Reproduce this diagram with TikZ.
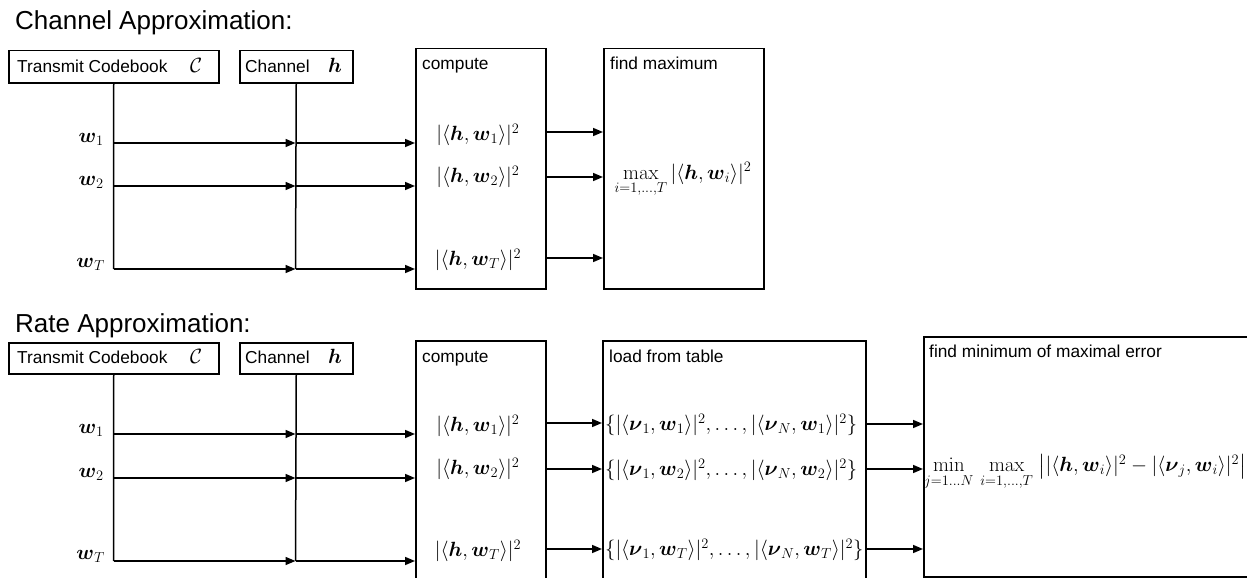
\RequirePackage{fix-cm}
\documentclass[tikz,border=0pt]{standalone}
\usepackage{amsmath}
\usepackage[no-math]{fontspec}
\setmainfont{Liberation Sans}
\usetikzlibrary{arrows.meta}
\begin{document}
\begin{tikzpicture}[x=1pt,y=-1pt,
  box/.style={draw, line width=1.5pt, inner sep=0pt},
  txt/.style={font=\fontsize{17.3}{20}\selectfont, inner sep=0pt},
  ttl/.style={font=\fontsize{26}{30}\selectfont, inner sep=0pt},
  mth/.style={font=\fontsize{20.6}{24}\selectfont, inner sep=0pt},
  ln/.style={line width=1.5pt},
  arr/.style={line width=1.5pt, -{Triangle[length=10pt,width=8pt]}}]
\useasboundingbox (0,0) rectangle (1247,578);
\clip (0,0) rectangle (1247,578);
\fill[white] (0,0) rectangle (1247,578);

% ===================== Channel Approximation =====================
\node[ttl, anchor=base west] (title1) at (15,30) {Channel Approximation:};

\node[box, anchor=north west, minimum width=210, minimum height=32] (tc1) at (8,50) {};
\node[txt, anchor=base west] (tc1t) at (17,72.5) {Transmit Codebook};
\node[mth, anchor=base west] (tc1c) at (190,72.5) {$\mathcal{C}$};
\node[box, anchor=north west, minimum width=113, minimum height=32] (ch1) at (239,50) {};
\node[txt, anchor=base west] (ch1t) at (245,72.5) {Channel};
\node[mth, anchor=base west] (ch1h) at (328,72.5) {$\boldsymbol{h}$};

\node[box, anchor=north west, minimum width=130, minimum height=240] (cp1) at (415,48) {};
\node[txt, anchor=base west] (cp1t) at (422,70) {compute};
\node[box, anchor=north west, minimum width=160, minimum height=240] (fm1) at (603,48) {};
\node[txt, anchor=base west] (fm1t) at (610,70) {find maximum};

\coordinate (a11) at (113.5,143);
\coordinate (a12) at (113.5,186);
\coordinate (a1T) at (113.5,269);
\coordinate (b11) at (295.5,143);
\coordinate (b12) at (295.5,186);
\coordinate (b1T) at (295.5,269);

\draw[ln] (tc1.south) -- (a1T);
\draw[ln] (ch1.south) -- (b1T);
\draw[arr] (a11) -- (b11);
\draw[arr] (a12) -- (b12);
\draw[arr] (a1T) -- (b1T);
\draw[arr] (b11) -- (cp1.west |- b11);
\draw[arr] (b12) -- (cp1.west |- b12);
\draw[arr] (b1T) -- (cp1.west |- b1T);

\node[mth, anchor=base east] (w11) at (104,142) {$\boldsymbol{w}_1$};
\node[mth, anchor=base east] (w12) at (104,185) {$\boldsymbol{w}_2$};
\node[mth, anchor=base east] (w1T) at (105,267) {$\boldsymbol{w}_T$};

\node[mth] (c11) at (478,135) {$|\langle\boldsymbol{h},\boldsymbol{w}_1\rangle|^2$};
\node[mth] (c12) at (478,177) {$|\langle\boldsymbol{h},\boldsymbol{w}_2\rangle|^2$};
\node[mth] (c1T) at (478,260) {$|\langle\boldsymbol{h},\boldsymbol{w}_T\rangle|^2$};

\draw[arr] (cp1.east |- 0,132) -- (fm1.west |- 0,132);
\draw[arr] (cp1.east |- 0,177) -- (fm1.west |- 0,177);
\draw[arr] (cp1.east |- 0,258) -- (fm1.west |- 0,258);

\node[mth] (mx1) at (683,180) {$\max\limits_{i=1,\ldots,T}|\langle\boldsymbol{h},\boldsymbol{w}_i\rangle|^2$};

% ===================== Rate Approximation =====================
\node[ttl, anchor=base west] (title2) at (15,332) {Rate Approximation:};

\node[box, anchor=north west, minimum width=210, minimum height=31] (tc2) at (8,342) {};
\node[txt, anchor=base west] (tc2t) at (17,363.5) {Transmit Codebook};
\node[mth, anchor=base west] (tc2c) at (190,363.5) {$\mathcal{C}$};
\node[box, anchor=north west, minimum width=113, minimum height=31] (ch2) at (239,342) {};
\node[txt, anchor=base west] (ch2t) at (245,363.5) {Channel};
\node[mth, anchor=base west] (ch2h) at (328,363.5) {$\boldsymbol{h}$};

\node[box, anchor=north west, minimum width=130, minimum height=270] (cp2) at (415,340) {};
\node[txt, anchor=base west] (cp2t) at (422,362) {compute};
\node[box, anchor=north west, minimum width=263, minimum height=270] (lt2) at (602,340) {};
\node[txt, anchor=base west] (lt2t) at (609,362) {load from table};
\node[box, anchor=north west, minimum width=340, minimum height=240] (fm2) at (923,336) {};
\node[txt, anchor=base west] (fm2t) at (929,357) {find minimum of maximal error};

\coordinate (a21) at (113.5,434);
\coordinate (a22) at (113.5,478);
\coordinate (a2T) at (113.5,561);
\coordinate (b21) at (295.5,434);
\coordinate (b22) at (295.5,478);
\coordinate (b2T) at (295.5,561);

\draw[ln] (tc2.south) -- (a2T);
\draw[ln] (ch2.south) -- (b2T);
\draw[arr] (a21) -- (b21);
\draw[arr] (a22) -- (b22);
\draw[arr] (a2T) -- (b2T);
\draw[arr] (b21) -- (cp2.west |- b21);
\draw[arr] (b22) -- (cp2.west |- b22);
\draw[arr] (b2T) -- (cp2.west |- b2T);

\node[mth, anchor=base east] (w21) at (104,433) {$\boldsymbol{w}_1$};
\node[mth, anchor=base east] (w22) at (104,477) {$\boldsymbol{w}_2$};
\node[mth, anchor=base east] (w2T) at (105,559) {$\boldsymbol{w}_T$};

\node[mth] (c21) at (478,426) {$|\langle\boldsymbol{h},\boldsymbol{w}_1\rangle|^2$};
\node[mth] (c22) at (478,469) {$|\langle\boldsymbol{h},\boldsymbol{w}_2\rangle|^2$};
\node[mth] (c2T) at (478,551) {$|\langle\boldsymbol{h},\boldsymbol{w}_T\rangle|^2$};

\draw[arr] (cp2.east |- 0,423) -- (lt2.west |- 0,423);
\draw[arr] (cp2.east |- 0,469) -- (lt2.west |- 0,469);
\draw[arr] (cp2.east |- 0,549) -- (lt2.west |- 0,549);

\node[mth, anchor=west] (l21) at (605,425) {$\{|\langle\boldsymbol{\nu}_1,\boldsymbol{w}_1\rangle|^2,\ldots,|\langle\boldsymbol{\nu}_N,\boldsymbol{w}_1\rangle|^2\}$};
\node[mth, anchor=west] (l22) at (605,470) {$\{|\langle\boldsymbol{\nu}_1,\boldsymbol{w}_2\rangle|^2,\ldots,|\langle\boldsymbol{\nu}_N,\boldsymbol{w}_2\rangle|^2\}$};
\node[mth, anchor=west] (l2T) at (605,550) {$\{|\langle\boldsymbol{\nu}_1,\boldsymbol{w}_T\rangle|^2,\ldots,|\langle\boldsymbol{\nu}_N,\boldsymbol{w}_T\rangle|^2\}$};

\draw[arr] (lt2.east |- 0,424) -- (fm2.west |- 0,424);
\draw[arr] (lt2.east |- 0,469) -- (fm2.west |- 0,469);
\draw[arr] (lt2.east |- 0,549) -- (fm2.west |- 0,549);

\node[mth, anchor=west] (mm2) at (924,472) {$\min\limits_{j=1\ldots N}\,\max\limits_{i=1,\ldots,T}\;\bigl||\langle\boldsymbol{h},\boldsymbol{w}_i\rangle|^2-|\langle\boldsymbol{\nu}_j,\boldsymbol{w}_i\rangle|^2\bigr|$};
\end{tikzpicture}
\end{document}
